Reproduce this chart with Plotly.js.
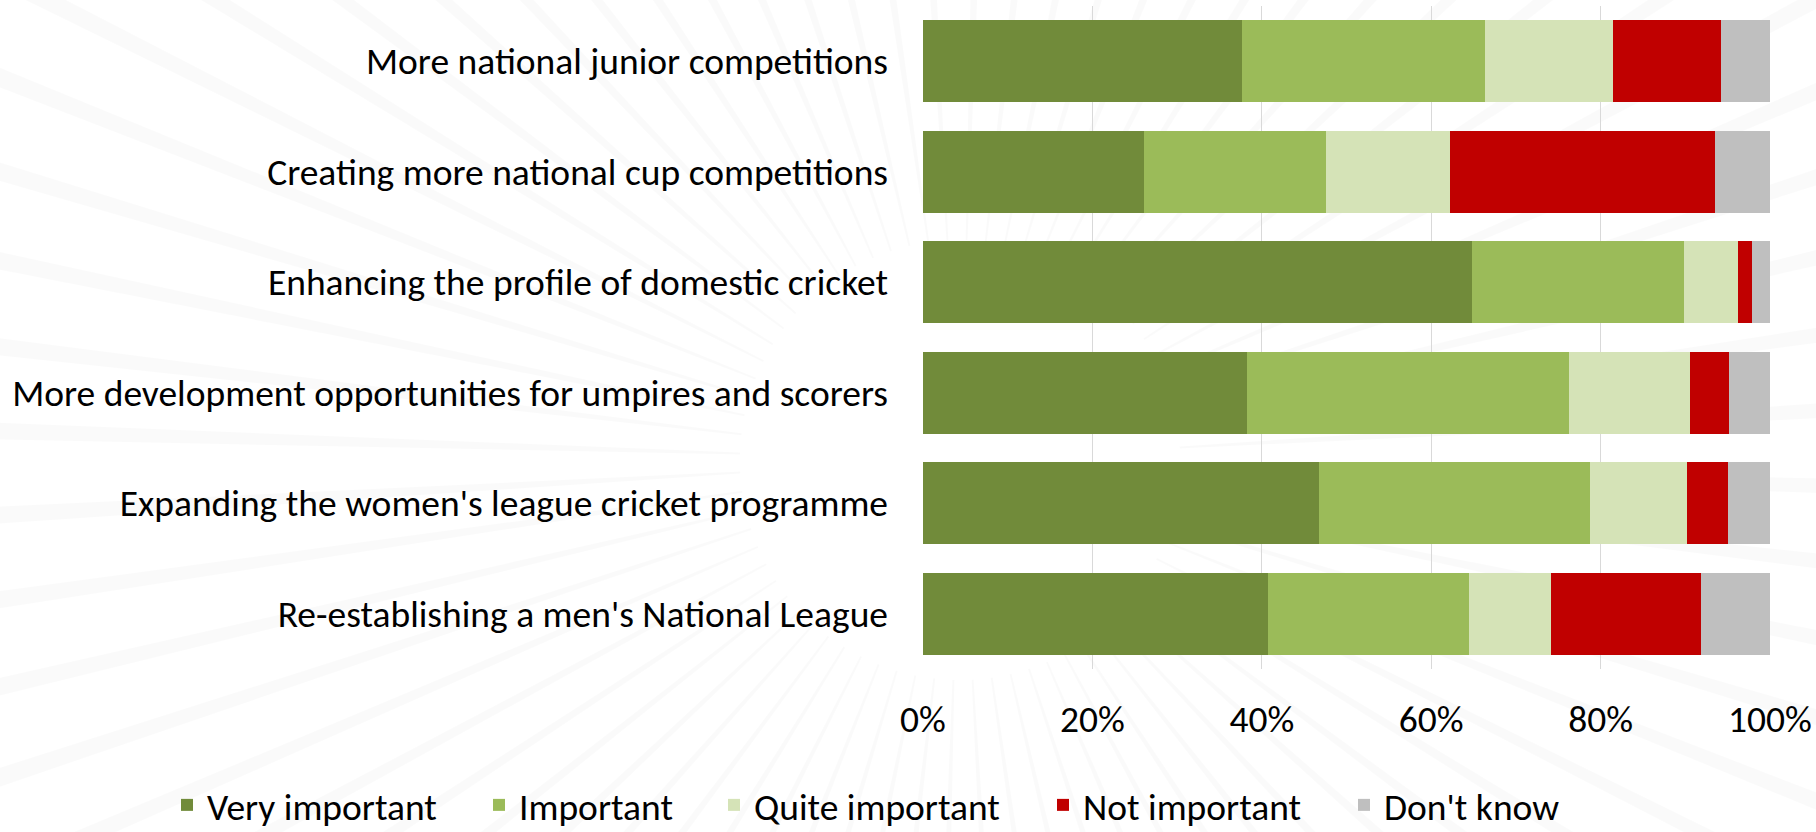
<!DOCTYPE html>
<html>
<head>
<meta charset="utf-8">
<script src="https://cdn.plot.ly/plotly-3.0.1.min.js"></script>
<style>
  html, body { margin: 0; padding: 0; background: #ffffff; }
  #chart { width: 1816px; height: 832px; }
</style>
</head>
<body>
<div id="chart"></div>
<script>
// Categories, top to bottom
const categories = [
  "More national junior competitions",
  "Creating more national cup competitions",
  "Enhancing the profile of domestic cricket",
  "More development opportunities for umpires and scorers",
  "Expanding the women's league cricket programme",
  "Re-establishing a men's National League"
];

// Shares (%) per response
const veryImportant  = [37.7, 26.1, 64.8, 38.2, 46.7, 40.7];
const important      = [28.6, 21.5, 25.1, 38.1, 32.0, 23.8];
const quiteImportant = [15.2, 14.6,  6.3, 14.3, 11.5,  9.7];
const notImportant   = [12.7, 31.3,  1.7,  4.6,  4.8, 17.7];
const dontKnow       = [ 5.8,  6.5,  2.1,  4.8,  5.0,  8.1];

const seriesNames  = ["Very important", "Important", "Quite important", "Not important", "Don't know"];
const seriesColors = ["#718B3A", "#9BBB59", "#D5E3B7", "#C00000", "#BFBFBF"];
const seriesValues = [veryImportant, important, quiteImportant, notImportant, dontKnow];

const xTickVals = [0, 20, 40, 60, 80, 100];
const xTickText = ["0%", "20%", "40%", "60%", "80%", "100%"];

const FONT = "Carlito, Calibri, Lato, sans-serif";
const FS = 37.5;

// plot-area geometry in container pixels (for paper conversions)
const L = 923, R = 1770, T = 6, B = 669;
const toX = px => (px - L) / (R - L);
const toY = py => (B - py) / (B - T);

// one legend per series so each entry sits where the reference puts it
const legendIds = ["legend", "legend2", "legend3", "legend4", "legend5"];
const legendLeft = [167, 479, 714, 1043, 1344];

const traces = seriesNames.map((name, i) => ({
  type: "bar",
  orientation: "h",
  name: name,
  y: categories,
  x: seriesValues[i],
  legend: legendIds[i],
  marker: { color: seriesColors[i], line: { width: 0 } },
  hoverinfo: "x+name"
}));

// Decorative faint sunburst background (watermark)
const shapes = [];
const cx = 960, cy = 460;
const nRays = 72;
for (let k = 0; k < nRays; k++) {
  const a = (k / nRays) * 2 * Math.PI + 0.03;
  const half = 0.009;
  const r0 = 220, r1 = 1150;
  const pts = [
    [cx + r0 * Math.cos(a - half * 0.5), cy + r0 * Math.sin(a - half * 0.5)],
    [cx + r1 * Math.cos(a - half), cy + r1 * Math.sin(a - half)],
    [cx + r1 * Math.cos(a + half), cy + r1 * Math.sin(a + half)],
    [cx + r0 * Math.cos(a + half * 0.5), cy + r0 * Math.sin(a + half * 0.5)]
  ];
  const d = "M" + pts.map(p => toX(p[0]).toFixed(4) + "," + toY(p[1]).toFixed(4)).join(" L") + " Z";
  shapes.push({
    type: "path", xref: "paper", yref: "paper", path: d,
    fillcolor: "rgba(0,0,0,0.02)", line: { width: 0 }, layer: "below"
  });
}

const layout = {
  width: 1816,
  height: 832,
  barmode: "stack",
  bargap: 0.255,
  paper_bgcolor: "#ffffff",
  plot_bgcolor: "rgba(0,0,0,0)",
  font: { family: FONT, size: FS, color: "#000000" },
  margin: { l: 923, r: 46, t: 6, b: 163, pad: 0, autoexpand: false },
  showlegend: true,
  xaxis: {
    range: [0, 100],
    tickvals: xTickVals,
    ticktext: xTickText,
    showgrid: true,
    gridcolor: "#D9D9D9",
    gridwidth: 1.3,
    zeroline: false,
    showline: false,
    ticks: "",
    ticklabelstandoff: 24,
    tickfont: { family: FONT, size: FS, color: "#000000" },
    automargin: false,
    fixedrange: true
  },
  yaxis: {
    type: "category",
    autorange: "reversed",
    showgrid: false,
    zeroline: false,
    showline: false,
    ticks: "",
    ticklabelstandoff: 34,
    tickfont: { family: FONT, size: FS, color: "#000000" },
    automargin: false,
    fixedrange: true
  },
  shapes: shapes
};

legendIds.forEach((id, i) => {
  layout[id] = {
    orientation: "h",
    xref: "paper", yref: "paper",
    x: toX(legendLeft[i]), xanchor: "left",
    y: toY(805), yanchor: "middle",
    font: { family: FONT, size: FS, color: "#000000" },
    itemwidth: 30,
    bgcolor: "rgba(0,0,0,0)"
  };
});

Plotly.newPlot("chart", traces, layout, { displayModeBar: false, staticPlot: true });
</script>
</body>
</html>
